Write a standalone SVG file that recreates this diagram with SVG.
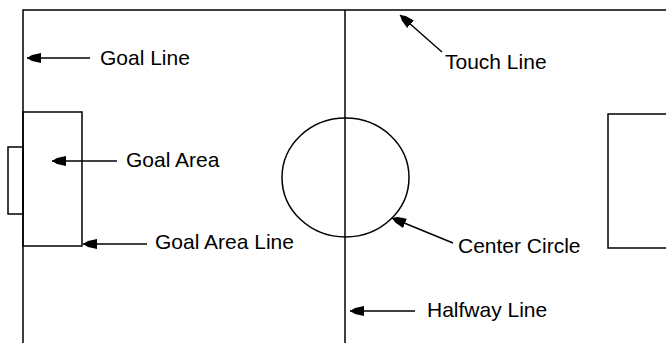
<svg xmlns="http://www.w3.org/2000/svg" width="666" height="343" viewBox="0 0 666 343">
<style>
.f{fill:none;stroke:#000;stroke-width:1.5}
.c{stroke:#000;stroke-width:1.4;fill:none}
text{font-family:"Liberation Sans",Arial,sans-serif;font-size:21px;fill:#000}
</style>
<defs>
<marker id="ah" markerUnits="userSpaceOnUse" markerWidth="18" markerHeight="14" refX="14" refY="5.5" orient="auto">
<path d="M0,0.5 L9,2.5 L14,5.5 L9,8.5 L0,10.5 z" fill="#000"/>
</marker>
</defs>
<rect width="666" height="343" fill="#fff"/>
<g id="field">
<path class="f" d="M23,343 V10 H666" stroke-width="2"/>
<line class="f" x1="345" y1="10" x2="345" y2="343"/>
</g>
<g id="goal-area-left"><rect class="f" x="23" y="112" width="59" height="134"/></g>
<g id="goal-left"><rect class="f" x="8" y="147" width="15" height="67"/></g>
<g id="goal-area-right"><path class="f" d="M666,114 H608 V248 H666"/></g>
<g id="center-circle"><ellipse class="f" cx="345.5" cy="177.5" rx="63.5" ry="59.5"/></g>
<g id="connectors">
<line class="c" x1="90" y1="58" x2="27" y2="58" marker-end="url(#ah)"/>
<line class="c" x1="117" y1="161" x2="52" y2="161" marker-end="url(#ah)"/>
<line class="c" x1="147" y1="244" x2="83" y2="244" marker-end="url(#ah)"/>
<line class="c" x1="442" y1="52" x2="400" y2="15" marker-end="url(#ah)"/>
<line class="c" x1="453" y1="243" x2="392" y2="218" marker-end="url(#ah)"/>
<line class="c" x1="415" y1="311" x2="350" y2="311" marker-end="url(#ah)"/>
</g>
<g id="labels">
<text x="100" y="65">Goal Line</text>
<text x="126" y="167">Goal Area</text>
<text x="155" y="249">Goal Area Line</text>
<text x="445" y="69">Touch Line</text>
<text x="458" y="253">Center Circle</text>
<text x="427" y="317">Halfway Line</text>
</g>
</svg>
